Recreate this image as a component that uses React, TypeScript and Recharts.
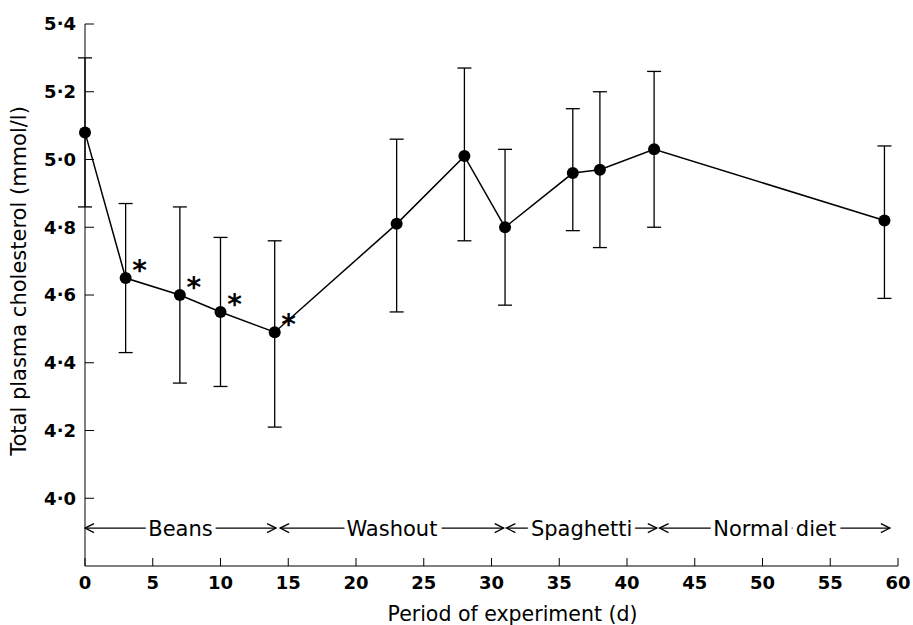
import React from "react";
import {
  ComposedChart,
  Line,
  XAxis,
  YAxis,
  ErrorBar,
  LabelList,
  ReferenceLine,
} from "recharts";

// day of measurement, mean and the top / bottom of each error bar (mmol/l)
const days = [0, 3, 7, 10, 14, 23, 28, 31, 36, 38, 42, 59];
const means = [5.08, 4.65, 4.6, 4.55, 4.49, 4.81, 5.01, 4.8, 4.96, 4.97, 5.03, 4.82];
const upper = [5.3, 4.87, 4.86, 4.77, 4.76, 5.06, 5.27, 5.03, 5.15, 5.2, 5.26, 5.04];
const lower = [4.86, 4.43, 4.34, 4.33, 4.21, 4.55, 4.76, 4.57, 4.79, 4.74, 4.8, 4.59];
const starred = [false, true, true, true, true, false, false, false, false, false, false, false];

const xTicks = [0, 5, 10, 15, 20, 25, 30, 35, 40, 45, 50, 55, 60];
const yTicks = [4.0, 4.2, 4.4, 4.6, 4.8, 5.0, 5.2, 5.4];

// diet periods shown as arrows under the curve
const phaseNames = ["Beans", "Washout", "Spaghetti", "Normal diet"];
const phaseStart = [0, 14.4, 31.1, 42.4];
const phaseEnd = [14.1, 30.9, 42.2, 59.4];
const phaseLevel = 3.912;

const data = days.map((d, i) => ({
  day: d,
  mean: means[i],
  err: [means[i] - lower[i], upper[i] - means[i]],
}));

const font = "'DejaVu Sans', sans-serif";

function PhaseArrow(props: any) {
  const { x1, x2, y1, name } = props;
  const y = y1;
  const h = 9;
  const v = 4.5;
  return (
    <g>
      <line x1={x1} y1={y} x2={x2} y2={y} stroke="#000" strokeWidth={1.3} />
      <polyline
        points={`${x1 + h},${y - v} ${x1},${y} ${x1 + h},${y + v}`}
        fill="none"
        stroke="#000"
        strokeWidth={1.3}
      />
      <polyline
        points={`${x2 - h},${y - v} ${x2},${y} ${x2 - h},${y + v}`}
        fill="none"
        stroke="#000"
        strokeWidth={1.3}
      />
      <text
        x={(x1 + x2) / 2}
        y={y + 7.5}
        textAnchor="middle"
        fontFamily={font}
        fontSize={21}
        fill="#000"
        stroke="#fff"
        strokeWidth={9}
        paintOrder="stroke"
      >
        {name}
      </text>
    </g>
  );
}

function Star(props: any) {
  const { x, y, index } = props;
  if (!starred[index]) return null;
  return (
    <text
      x={x + 14}
      y={y + 2}
      textAnchor="middle"
      fontFamily={font}
      fontWeight="bold"
      fontSize={28}
      fill="#000"
    >
      *
    </text>
  );
}

function YTitle(props: any) {
  const { viewBox } = props;
  const cy = viewBox.y + viewBox.height / 2 - 14;
  return (
    <text
      transform={`translate(19, ${cy}) rotate(-90)`}
      textAnchor="middle"
      dominantBaseline="central"
      fontFamily={font}
      fontSize={21}
      fill="#000"
    >
      Total plasma cholesterol (mmol/l)
    </text>
  );
}

export default function App() {
  return (
    <div style={{ position: "absolute", left: 0, top: 0, background: "#fff" }}>
      <ComposedChart
        width={913}
        height={625}
        data={data}
        margin={{ top: 24, right: 15, bottom: 19, left: 0 }}
        style={{ fontFamily: font }}
      >
        <XAxis
          dataKey="day"
          type="number"
          domain={[0, 60]}
          ticks={xTicks}
          height={40}
          tickSize={-8}
          tickMargin={18}
          stroke="#000"
          tick={{ fill: "#000", fontSize: 18, fontWeight: "bold" }}
          label={{
            value: "Period of experiment (d)",
            position: "bottom",
            offset: 0,
            dx: 21,
            fill: "#000",
            fontSize: 20.5,
          }}
        />
        <YAxis
          type="number"
          domain={[3.8, 5.4]}
          ticks={yTicks}
          width={85}
          tickSize={-9}
          tickMargin={18}
          stroke="#000"
          tickFormatter={(v: number) => v.toFixed(1).replace(".", "·")}
          tick={{ fill: "#000", fontSize: 18, fontWeight: "bold" }}
          label={{ content: <YTitle /> }}
        />
        {phaseNames.map((name, i) => (
          <ReferenceLine
            key={name}
            segment={[
              { x: phaseStart[i], y: phaseLevel },
              { x: phaseEnd[i], y: phaseLevel },
            ]}
            ifOverflow="extendDomain"
            shape={(p: any) => <PhaseArrow {...p} name={name} />}
          />
        ))}
        <Line
          type="linear"
          dataKey="mean"
          stroke="#000"
          strokeWidth={1.5}
          dot={{ r: 6, fill: "#000", stroke: "#000", strokeWidth: 0 }}
          activeDot={false}
          isAnimationActive={false}
        >
          <ErrorBar dataKey="err" direction="y" width={7} stroke="#000" strokeWidth={1.3} />
          <LabelList dataKey="mean" content={<Star />} />
        </Line>
      </ComposedChart>
    </div>
  );
}
